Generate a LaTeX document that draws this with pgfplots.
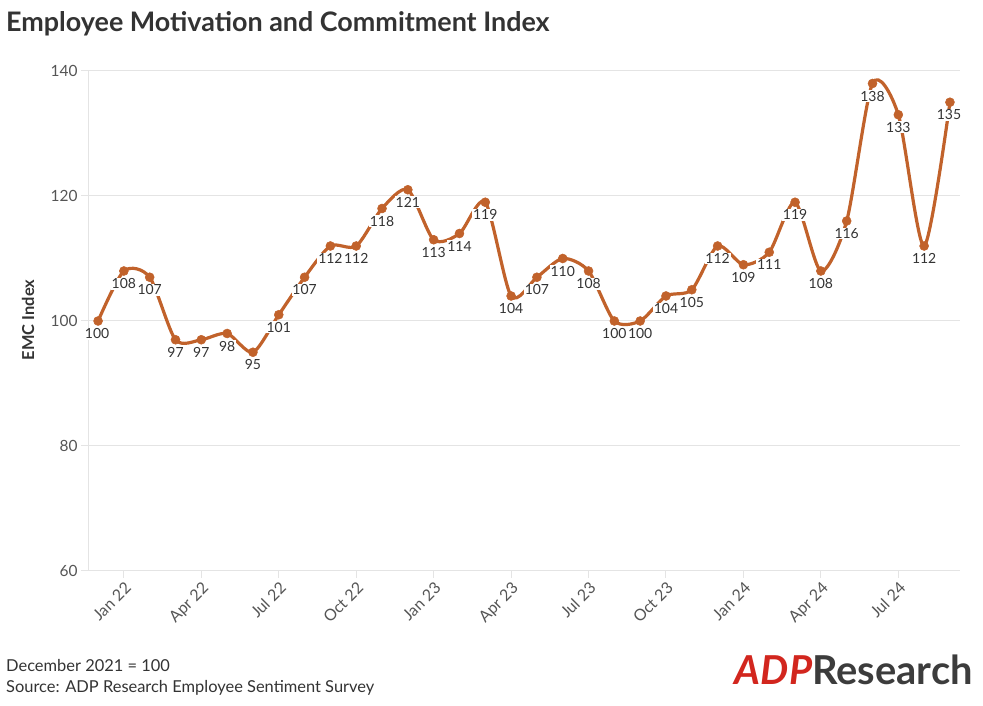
\documentclass[border=0pt]{standalone}
\usepackage{fontspec}
\setmainfont{Lato}
\usepackage{pgfplots}
\pgfplotsset{compat=1.18}
\definecolor{lineC}{RGB}{193,98,43}
\definecolor{gridC}{RGB}{228,228,228}
\definecolor{txt}{RGB}{51,51,51}
\definecolor{tickC}{RGB}{85,85,85}
\definecolor{adpred}{RGB}{210,38,30}
\definecolor{logogrey}{RGB}{60,60,60}
\begin{document}
\begin{tikzpicture}[x=1bp,y=1bp]
\useasboundingbox (0,0) rectangle (983,706);
\node[anchor=base west, font=\fontsize{27}{31}\selectfont\bfseries, text=txt, inner sep=0] at (6,674) {Employee Motivation and Commitment Index};
\begin{axis}[at={(88bp,135bp)}, anchor=south west, scale only axis, width=872bp, height=500bp,
  xmin=-0.39, xmax=33.39, ymin=60, ymax=140,
  ytick={60,80,100,120,140},
  xtick={1,4,...,31},
  xticklabels={Jan 22,Apr 22,Jul 22,Oct 22,Jan 23,Apr 23,Jul 23,Oct 23,Jan 24,Apr 24,Jul 24},
  axis lines=left, axis line style={draw=gridC, line width=1bp, -},
  ymajorgrids, grid style={draw=gridC, line width=1bp},
  tick style={draw=gridC, line width=1bp}, major tick length=7bp, tick align=outside,
  yticklabel style={font=\fontsize{15.5}{17}\selectfont, text=tickC},
  xticklabel style={font=\fontsize{16}{18}\selectfont, text=tickC, rotate=45, anchor=north east, inner sep=2bp},
  /pgf/number format/assume math mode=true,
  clip=false,
  nodes near coords,
  every node near coord/.append style={font=\fontsize{14}{16}\selectfont, text=txt, fill=white, inner sep=0.8bp, anchor=north, yshift=-6.5bp},
  coordinate style/.condition={\coordindex==0}{anchor=north west, xshift=-1bp},
  coordinate style/.condition={\coordindex==33}{anchor=north east, xshift=-1bp},
]
\addplot[lineC, line width=3.2bp, smooth, tension=0.45, mark=*, mark size=4.5bp, mark options={fill=lineC, draw=lineC, line width=0.5bp}] coordinates {
(0,100) (1,108) (2,107) (3,97) (4,97) (5,98) (6,95) (7,101) (8,107) (9,112) (10,112) (11,118)
(12,121) (13,113) (14,114) (15,119) (16,104) (17,107) (18,110) (19,108) (20,100) (21,100)
(22,104) (23,105) (24,112) (25,109) (26,111) (27,119) (28,108) (29,116) (30,138) (31,133)
(32,112) (33,135)};
\end{axis}
\node[rotate=90, font=\fontsize{16.5}{18}\selectfont\bfseries, text=txt] at (28,386) {EMC Index};
\node[anchor=base west, font=\fontsize{16.5}{18}\selectfont, text=txt, inner sep=0] at (6,34) {December 2021 = 100};
\node[anchor=base west, font=\fontsize{16.5}{18}\selectfont, text=txt, inner sep=0] at (6,13) {Source: ADP Research Employee Sentiment Survey};
\node[anchor=base east, inner sep=0, font=\fontsize{40}{44}\selectfont\bfseries] at (973,21) {{\color{adpred}\itshape ADP}{\color{logogrey}Research}};
\end{tikzpicture}
\end{document}
